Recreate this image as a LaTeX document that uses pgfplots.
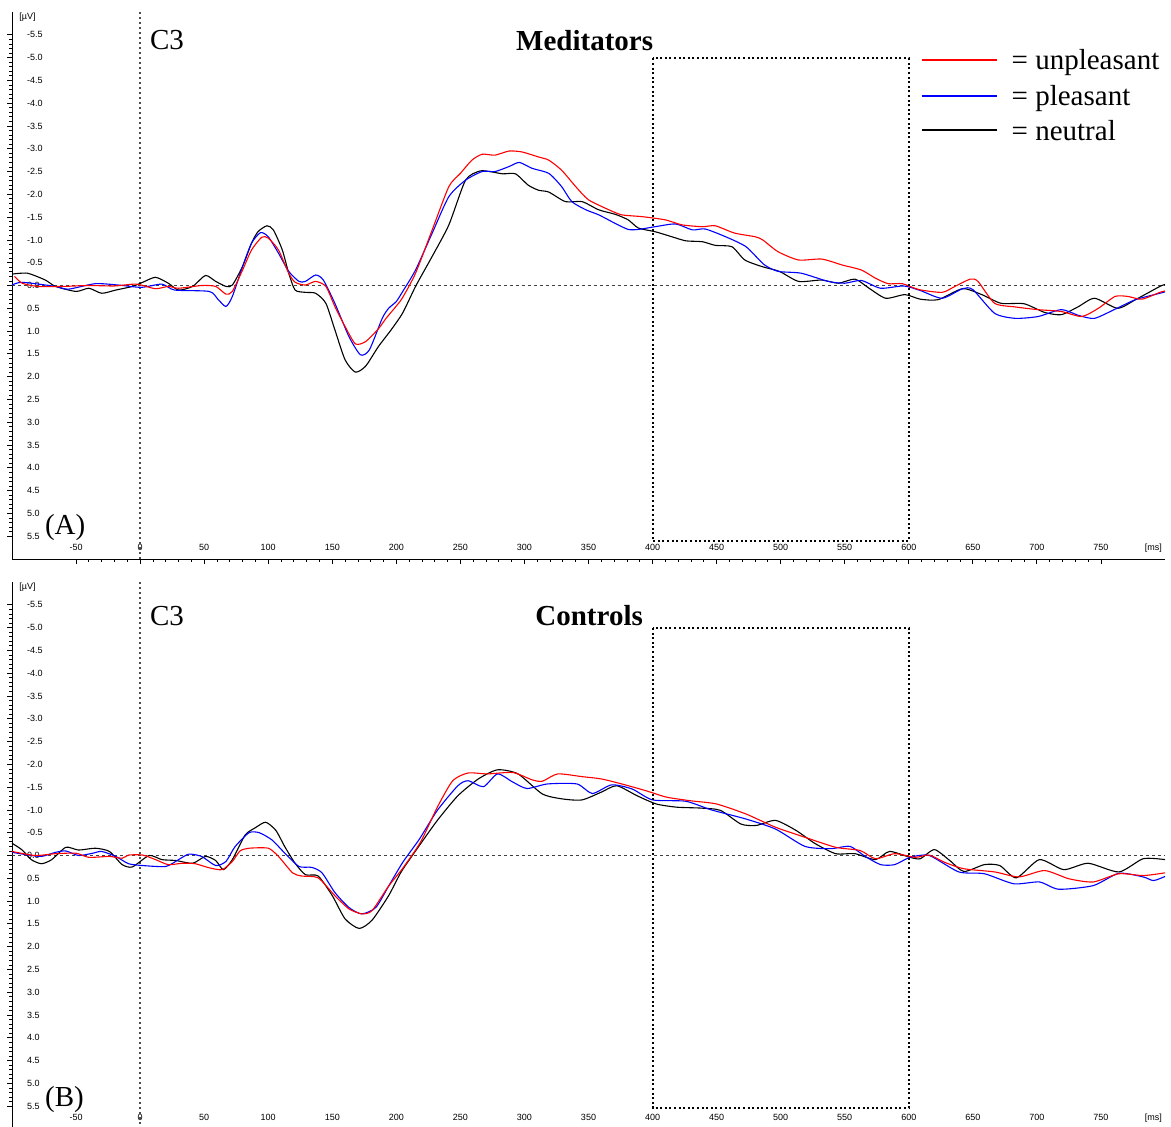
\documentclass[border=0pt]{standalone}
\usepackage{pgfplots}
\pgfplotsset{compat=1.18}
\usepackage{fontspec}
\setmainfont{Liberation Serif}
\newfontfamily\tickfont{Liberation Sans}

\pgfplotstableread{
x y
-100 -0.25
-88 -0.27
-74 -0.12
-66 0.02
-50 0.13
-40 0.06
-30 0.17
-19 0.1
-6 0.02
2 -0.07
12 -0.18
22 -0.05
30 0.1
41 0.02
51 -0.22
59 -0.09
67 0.02
72 -0.01
80 -0.42
87 -0.93
92 -1.18
99 -1.31
104 -1.22
111 -0.78
116 -0.27
121 0.1
129 0.15
137 0.17
145 0.39
152 0.97
160 1.63
168 1.9
176 1.77
186 1.34
196 0.97
205 0.6
215 0.02
228 -0.64
241 -1.33
254 -2.31
265 -2.51
273 -2.5
283 -2.45
293 -2.45
303 -2.2
311 -2.09
319 -2.05
332 -1.84
345 -1.84
358 -1.66
371 -1.56
381 -1.44
389 -1.26
402 -1.18
415 -1.07
426 -0.98
439 -0.96
449 -0.88
462 -0.85
472 -0.56
486 -0.41
499 -0.31
514 -0.09
532 -0.12
545 -0.05
558 -0.14
569 0.06
582 0.28
597 0.2
609 0.3
623 0.31
642 0.07
657 0.2
672 0.39
690 0.4
706 0.59
719 0.64
732 0.47
745 0.28
763 0.5
777 0.31
796 0.02
800 -0.02
}\medNeu

\pgfplotstableread{
x y
-100 -0.01
-92 -0.07
-66 0.02
-56 0.08
-35 -0.04
-17 -0.01
1 0.04
17 -0.03
27 0.1
54 0.13
61 0.31
67 0.46
72 0.24
80 -0.42
87 -0.93
94 -1.16
100 -1.07
108 -0.71
116 -0.31
124 -0.09
129 -0.09
137 -0.23
143 -0.12
152 0.39
163 1.12
172 1.52
179 1.41
189 0.72
194 0.5
200 0.35
205 0.13
215 -0.34
228 -1.15
241 -1.95
254 -2.31
267 -2.5
277 -2.5
288 -2.61
296 -2.7
306 -2.57
319 -2.46
329 -2.17
337 -1.84
348 -1.66
358 -1.55
371 -1.36
381 -1.23
389 -1.23
402 -1.29
418 -1.35
431 -1.22
441 -1.24
457 -1.07
473 -0.85
487 -0.46
498 -0.31
516 -0.27
537 -0.09
550 -0.05
563 -0.11
578 0.06
596 0.01
609 0.11
626 0.28
642 0.07
650 0.09
667 0.61
683 0.72
701 0.68
719 0.53
733 0.66
745 0.72
761 0.52
777 0.31
796 0.17
800 0.14
}\medPle

\pgfplotstableread{
x y
-98 -0.2
-92 -0.05
-80 0.02
-60 0.02
-40 0.0
-20 0.01
-3 -0.03
12 0.07
22 0.02
30 0.06
48 0.0
59 0.02
67 0.19
72 0.13
80 -0.34
87 -0.78
95 -1.06
100 -1.04
108 -0.78
116 -0.27
121 -0.07
129 -0.01
137 -0.09
145 0.02
152 0.46
160 0.9
168 1.28
176 1.23
186 0.95
192 0.72
200 0.45
205 0.26
215 -0.27
228 -1.22
241 -2.17
250 -2.46
259 -2.75
267 -2.88
277 -2.86
288 -2.95
298 -2.93
311 -2.82
319 -2.75
329 -2.53
340 -2.17
350 -1.88
366 -1.66
376 -1.55
392 -1.51
410 -1.44
423 -1.33
439 -1.29
449 -1.31
464 -1.15
480 -1.07
486 -1.0
498 -0.74
514 -0.56
532 -0.58
548 -0.45
563 -0.34
574 -0.16
584 -0.04
595 -0.04
608 0.09
626 0.15
636 0.02
648 -0.14
654 -0.09
667 0.39
683 0.47
701 0.53
719 0.57
735 0.68
748 0.5
761 0.24
771 0.24
782 0.3
796 0.15
800 0.12
}\medUnp

\pgfplotstableread{
x y
-100 -0.27
-92 -0.12
-85 0.09
-77 0.18
-69 0.09
-58 -0.18
-48 -0.12
-35 -0.16
-24 -0.09
-14 0.2
-6 0.25
7 0.0
17 0.09
28 0.11
41 0.17
51 0.02
59 0.11
65 0.31
72 0.09
82 -0.45
90 -0.61
98 -0.73
106 -0.55
113 -0.19
121 0.17
129 0.42
139 0.45
150 0.88
160 1.39
171 1.6
181 1.42
194 0.88
204 0.35
218 -0.22
232 -0.77
248 -1.31
264 -1.68
279 -1.88
295 -1.79
314 -1.35
330 -1.24
345 -1.22
360 -1.39
372 -1.53
388 -1.31
403 -1.13
419 -1.06
438 -1.04
453 -0.99
469 -0.69
481 -0.66
496 -0.77
512 -0.55
527 -0.26
543 -0.04
558 -0.04
574 0.09
585 -0.09
601 0.04
609 0.07
620 -0.13
632 0.11
643 0.35
659 0.2
671 0.22
684 0.49
702 0.09
721 0.31
740 0.17
764 0.36
783 0.07
800 0.09
}\conNeu

\pgfplotstableread{
x y
-100 -0.07
-87 -0.01
-77 0.02
-66 -0.07
-58 -0.1
-48 0.0
-37 -0.05
-30 -0.09
-19 0.02
-9 0.18
2 0.22
20 0.24
30 0.09
38 -0.03
48 0.02
59 0.22
67 0.13
74 -0.19
85 -0.5
93 -0.5
103 -0.34
113 -0.05
124 0.24
134 0.26
142 0.38
152 0.81
163 1.14
173 1.28
184 1.14
194 0.67
205 0.15
218 -0.36
232 -0.99
248 -1.53
256 -1.64
268 -1.51
279 -1.79
291 -1.61
302 -1.47
318 -1.57
341 -1.57
353 -1.36
368 -1.55
384 -1.46
400 -1.22
426 -1.19
446 -1.0
473 -0.8
496 -0.58
519 -0.2
539 -0.15
554 -0.2
566 0.02
578 0.2
589 0.2
601 0.04
616 0.0
639 0.36
659 0.4
682 0.62
702 0.58
717 0.74
744 0.66
764 0.39
783 0.47
791 0.55
800 0.46
}\conPle

\pgfplotstableread{
x y
-100 -0.09
-82 0.0
-66 -0.04
-50 -0.05
-40 0.04
-24 0.02
-14 0.06
-9 -0.01
2 -0.01
12 0.09
22 0.2
33 0.17
43 0.18
54 0.27
64 0.31
72 0.13
78 -0.1
85 -0.16
100 -0.16
108 0.02
119 0.38
126 0.45
139 0.49
152 0.88
163 1.17
173 1.28
181 1.21
194 0.67
205 0.28
219 -0.3
232 -1.06
244 -1.64
256 -1.81
271 -1.79
291 -1.82
306 -1.66
314 -1.63
326 -1.79
345 -1.73
360 -1.68
376 -1.57
395 -1.42
411 -1.28
430 -1.2
450 -1.13
473 -0.91
496 -0.62
519 -0.4
543 -0.18
562 -0.11
574 0.07
589 -0.04
605 0.04
616 -0.01
628 0.15
643 0.29
667 0.36
686 0.47
706 0.33
725 0.51
744 0.58
764 0.4
783 0.44
800 0.38
}\conUnp

\pgfplotsset{
  erp/.style={
    scale only axis,
    width=576.5pt, height=273.5pt,
    xmin=-100, xmax=800, ymin=-6, ymax=6,
    y dir=reverse,
    axis x line=bottom, axis y line=left,
    axis line style={-, line width=0.5pt},
    xtick={-50,0,...,750},
    ytick={-5.5,-5,...,5.5},
    minor x tick num=4, minor y tick num=4,
    tick align=outside,
    major tick length=2.5pt, minor tick length=1.3pt,
    tick style={line width=0.4pt, black},
    /pgf/number format/assume math mode=true,
    yticklabel={\pgfmathprintnumber[fixed,fixed zerofill,precision=1]{\tick}},
    xticklabel={\pgfmathprintnumber[fixed,precision=0]{\tick}},
    ticklabel style={font=\tickfont\fontsize{4.5}{5}\selectfont},
    yticklabel style={anchor=west, xshift=6.5pt},
    xticklabel style={anchor=south, yshift=3.2pt},
    clip=false,
  },
  eeg/.style={line width=0.55pt, smooth, tension=0.4},
}

\newcommand{\deco}{%
  \draw[black!75, dash pattern=on 1.5pt off 1.5pt, line width=0.5pt] (axis cs:-100,0) -- (axis cs:800,0);
  \draw[black!70, dash pattern=on 1pt off 1.5pt, line width=0.8pt] (axis cs:0,-6) -- (axis cs:0,6);
  \node[anchor=west, font=\tickfont\fontsize{4.5}{5}\selectfont, inner sep=0pt, xshift=3.5pt] at (axis cs:-100,-5.88) {[µV]};
  \node[anchor=south, font=\tickfont\fontsize{4.5}{5}\selectfont, inner sep=0pt, yshift=3.2pt] at (axis cs:791,6) {[ms]};
}

\begin{document}
\begin{tikzpicture}
\useasboundingbox (0,0) rectangle (585.5pt,-563.5pt);

% ---------- Panel A: Meditators ----------
\begin{axis}[erp, at={(6pt,-6pt)}, anchor=north west]
\deco
\addplot[eeg, black] table {\medNeu};
\addplot[eeg, blue] table {\medPle};
\addplot[eeg, red] table {\medUnp};
\draw[black, dash pattern=on 1pt off 1.3pt, line width=1pt] (axis cs:400,-4.98) rectangle (axis cs:600,5.6);
\node[font=\fontsize{14.5}{16}\selectfont] at (axis cs:21,-5.38) {C3};
\node[font=\fontsize{14.5}{16}\selectfont\bfseries] at (axis cs:347,-5.38) {Meditators};
\node[font=\fontsize{14.5}{16}\selectfont] at (axis cs:-58.5,5.3) {(A)};
\draw[red, line width=0.7pt] (axis cs:610,-4.95) -- (axis cs:669,-4.95);
\draw[blue, line width=0.7pt] (axis cs:610,-4.16) -- (axis cs:669,-4.16);
\draw[black, line width=0.7pt] (axis cs:610,-3.41) -- (axis cs:669,-3.41);
\node[anchor=base west, inner sep=0pt, font=\fontsize{14.5}{16}\selectfont] at (axis cs:680,-4.73) {= unpleasant};
\node[anchor=base west, inner sep=0pt, font=\fontsize{14.5}{16}\selectfont] at (axis cs:680,-3.94) {= pleasant};
\node[anchor=base west, inner sep=0pt, font=\fontsize{14.5}{16}\selectfont] at (axis cs:680,-3.19) {= neutral};
\end{axis}

% ---------- Panel B: Controls ----------
\begin{axis}[erp, at={(6pt,-291pt)}, anchor=north west]
\deco
\addplot[eeg, black] table {\conNeu};
\addplot[eeg, blue] table {\conPle};
\addplot[eeg, red] table {\conUnp};
\draw[black, dash pattern=on 1pt off 1.3pt, line width=1pt] (axis cs:400,-4.99) rectangle (axis cs:600,5.54);
\node[font=\fontsize{14.5}{16}\selectfont] at (axis cs:21,-5.25) {C3};
\node[font=\fontsize{14.5}{16}\selectfont\bfseries] at (axis cs:350.5,-5.27) {Controls};
\node[font=\fontsize{14.5}{16}\selectfont] at (axis cs:-59,5.36) {(B)};
\end{axis}
\end{tikzpicture}
\end{document}
